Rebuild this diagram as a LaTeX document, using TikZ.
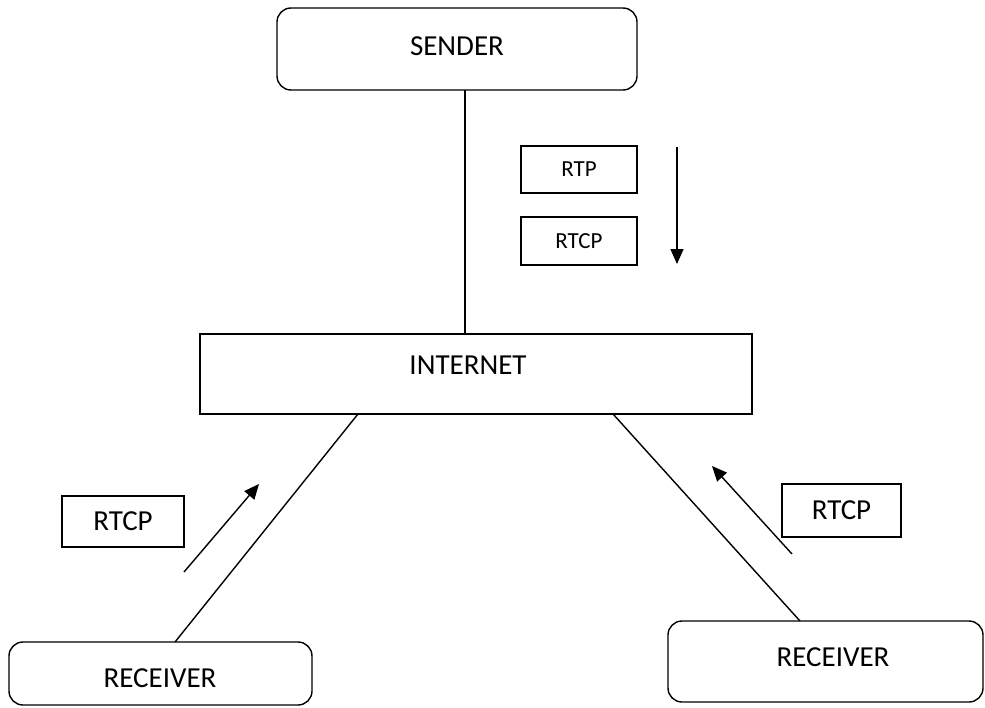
\documentclass[tikz,border=0pt]{standalone}
\usepackage{fontspec}
\setmainfont{Carlito}
\usetikzlibrary{arrows.meta}
\begin{document}
\begin{tikzpicture}[x=1pt,y=-1pt,
  every node/.style={inner sep=0pt, outer sep=0pt},
  rbox/.style={draw, line width=1.4pt, rounded corners=14pt},
  sbox/.style={draw, line width=1.4pt},
  big/.style={font=\fontsize{29}{32}\selectfont},
  small/.style={font=\fontsize{23}{26}\selectfont},
  conn/.style={line width=1.4pt},
  flow/.style={line width=1.4pt, -{Triangle[length=15pt,width=13pt]}}]
\useasboundingbox (0,0) rectangle (985,707);
% boxes
\node[rbox, minimum width=360pt, minimum height=82pt] (sender) at (457,49) {};
\node[big] (sendert) at (457,46) {SENDER};
\node[sbox, minimum width=552pt, minimum height=80pt] (internet) at (476,374) {};
\node[big] (internett) at (468,365) {INTERNET};
\node[rbox, minimum width=303pt, minimum height=63pt] (recl) at (160.5,673.5) {};
\node[big] (reclt) at (160,678) {RECEIVER};
\node[rbox, minimum width=315pt, minimum height=81pt] (recr) at (825.5,661.5) {};
\node[big] (recrt) at (833,657) {RECEIVER};
% labels
\node[sbox, small, minimum width=116pt, minimum height=47pt] (rtp) at (579,169.5) {RTP};
\node[sbox, small, minimum width=116pt, minimum height=48pt] (rtcp) at (579,241) {RTCP};
\node[sbox, big, minimum width=122pt, minimum height=51pt] (rtcpl) at (123,521.5) {RTCP};
\node[sbox, big, minimum width=119pt, minimum height=53pt] (rtcpr) at (841.5,510.5) {RTCP};
% connectors
\draw[conn] ([xshift=8pt]sender.south) -- ([xshift=-11pt]internet.north);
\draw[conn] ([xshift=-118pt]internet.south) -- ([xshift=14.5pt]recl.north);
\draw[conn] ([xshift=137pt]internet.south) -- ([xshift=-25.5pt]recr.north);
% flow arrows
\coordinate (a1s) at (677,147);
\coordinate (a1e) at (677,264);
\coordinate (a2s) at (184,572);
\coordinate (a2e) at (259,484);
\coordinate (a3s) at (792,554);
\coordinate (a3e) at (712,466);
\draw[flow] (a1s) -- (a1e);
\draw[flow] (a2s) -- (a2e);
\draw[flow] (a3s) -- (a3e);
\end{tikzpicture}
\end{document}
